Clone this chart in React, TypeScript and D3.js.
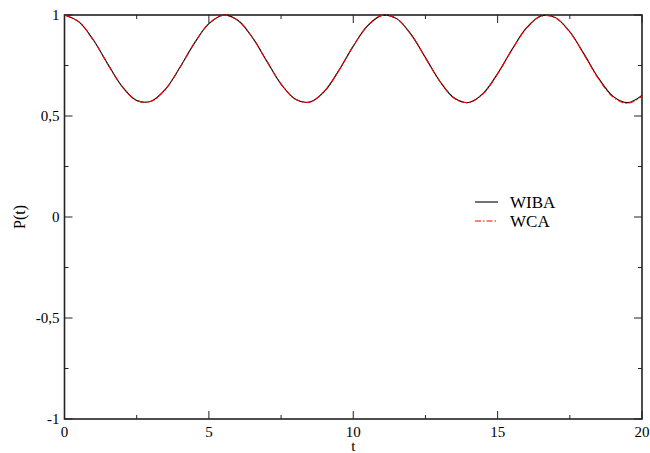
import { useEffect, useRef } from 'react';
import * as d3 from 'd3';

// values
const tValues = [
  0, 0.5, 1, 1.5, 2, 2.5, 3, 3.5, 4, 4.5, 5, 5.5, 6, 6.5, 7, 7.5, 8, 8.5, 9, 9.5, 10,
  10.5, 11, 11.5, 12, 12.5, 13, 13.5, 14, 14.5, 15, 15.5, 16, 16.5, 17, 17.5, 18, 18.5,
  19, 19.5, 20,
];
const wibaValues = [
  1.0, 0.966, 0.876, 0.757, 0.645, 0.577, 0.573, 0.633, 0.741, 0.861, 0.957, 0.999,
  0.974, 0.89, 0.773, 0.658, 0.583, 0.569, 0.622, 0.725, 0.846, 0.947, 0.998, 0.982,
  0.904, 0.789, 0.672, 0.589, 0.567, 0.612, 0.71, 0.83, 0.936, 0.995, 0.987, 0.917,
  0.805, 0.686, 0.597, 0.566, 0.602,
];
const wcaValues = [
  1.0, 0.966, 0.876, 0.757, 0.645, 0.577, 0.573, 0.633, 0.741, 0.861, 0.957, 0.999,
  0.974, 0.89, 0.773, 0.658, 0.583, 0.569, 0.622, 0.725, 0.846, 0.947, 0.998, 0.982,
  0.904, 0.788, 0.671, 0.588, 0.566, 0.611, 0.709, 0.829, 0.935, 0.994, 0.986, 0.915,
  0.802, 0.683, 0.594, 0.563, 0.598,
];
const xTicks = [0, 5, 10, 15, 20];
const yTicks = [-1, -0.5, 0, 0.5, 1];
const yTickLabels = ['-1', '-0,5', '0', '0,5', '1'];
const legendLabels = ['WIBA', 'WCA'];

const width = 650;
const height = 453;

const App = () => {
  const svgRef = useRef<SVGSVGElement>(null);

  useEffect(() => {
    if (!svgRef.current) return;
    const svg = d3.select(svgRef.current);
    svg.selectAll('*').remove();

    const margin = { top: 15, right: 8, bottom: 34, left: 64.5 };
    const x = d3.scaleLinear().domain([0, 20]).range([margin.left, width - margin.right]);
    const y = d3.scaleLinear().domain([-1, 1]).range([height - margin.bottom, margin.top]);
    const font = '"Liberation Serif", "Times New Roman", serif';

    // tick marks, inside, on all four sides
    const ticks = svg.append('g').attr('stroke', '#222').attr('stroke-width', 1);
    const xMinor = d3.range(0, 20.01, 2.5);
    xMinor.forEach((v) => {
      const len = v % 5 === 0 ? 8 : 4;
      ticks.append('line').attr('x1', x(v)).attr('x2', x(v)).attr('y1', y(-1)).attr('y2', y(-1) - len);
      ticks.append('line').attr('x1', x(v)).attr('x2', x(v)).attr('y1', y(1)).attr('y2', y(1) + len);
    });
    const yMinor = d3.range(-1, 1.01, 0.25);
    yMinor.forEach((v) => {
      const len = Math.abs(v * 2 - Math.round(v * 2)) < 1e-6 ? 8 : 4;
      ticks.append('line').attr('y1', y(v)).attr('y2', y(v)).attr('x1', x(0)).attr('x2', x(0) + len);
      ticks.append('line').attr('y1', y(v)).attr('y2', y(v)).attr('x1', x(20)).attr('x2', x(20) - len);
    });

    // frame
    svg
      .append('rect')
      .attr('x', x(0))
      .attr('y', y(1))
      .attr('width', x(20) - x(0))
      .attr('height', y(-1) - y(1))
      .attr('fill', 'none')
      .attr('stroke', '#222')
      .attr('stroke-width', 1.6);

    // tick labels
    svg
      .append('g')
      .selectAll('text')
      .data(xTicks)
      .join('text')
      .attr('x', (d) => x(d))
      .attr('y', y(-1) + 18)
      .attr('text-anchor', 'middle')
      .attr('font-family', font)
      .attr('font-size', 15)
      .text((d) => String(d));

    svg
      .append('g')
      .selectAll('text')
      .data(yTicks)
      .join('text')
      .attr('x', x(0) - 5)
      .attr('y', (d) => y(d) + 5)
      .attr('text-anchor', 'end')
      .attr('font-family', font)
      .attr('font-size', 15)
      .text((_, i) => yTickLabels[i]);

    // axis titles
    svg
      .append('text')
      .attr('x', x(10))
      .attr('y', height - 2.5)
      .attr('text-anchor', 'middle')
      .attr('font-family', font)
      .attr('font-size', 15)
      .text('t');
    svg
      .append('text')
      .attr('transform', `translate(25,${y(0)}) rotate(-90)`)
      .attr('text-anchor', 'middle')
      .attr('font-family', font)
      .attr('font-size', 16)
      .text('P(t)');

    // curves
    const line = d3
      .line<number>()
      .x((_, i) => x(tValues[i]))
      .y((d) => y(d))
      .curve(d3.curveCatmullRom.alpha(0.5));

    svg
      .append('path')
      .attr('d', line(wibaValues))
      .attr('fill', 'none')
      .attr('stroke', '#000')
      .attr('stroke-width', 1.1);
    svg
      .append('path')
      .attr('d', line(wcaValues))
      .attr('fill', 'none')
      .attr('stroke', '#ff0000')
      .attr('stroke-width', 1.1)
      .attr('stroke-dasharray', '6,2,1.5,2');

    // legend
    const legend = svg.append('g').attr('transform', 'translate(475,202)');
    legendLabels.forEach((label, i) => {
      legend
        .append('line')
        .attr('x1', 0)
        .attr('x2', 23)
        .attr('y1', i * 19)
        .attr('y2', i * 19)
        .attr('stroke', i === 0 ? '#000' : '#ff0000')
        .attr('stroke-width', 1.1)
        .attr('stroke-dasharray', i === 0 ? null : '6,2,1.5,2');
      legend
        .append('text')
        .attr('x', 35)
        .attr('y', i * 19 + 6)
        .attr('font-family', font)
        .attr('font-size', 17)
        .text(label);
    });
  }, []);

  return (
    <svg
      ref={svgRef}
      width={width}
      height={height}
      style={{ position: 'absolute', left: 0, top: 0, background: '#fff' }}
    />
  );
};

export default App;
